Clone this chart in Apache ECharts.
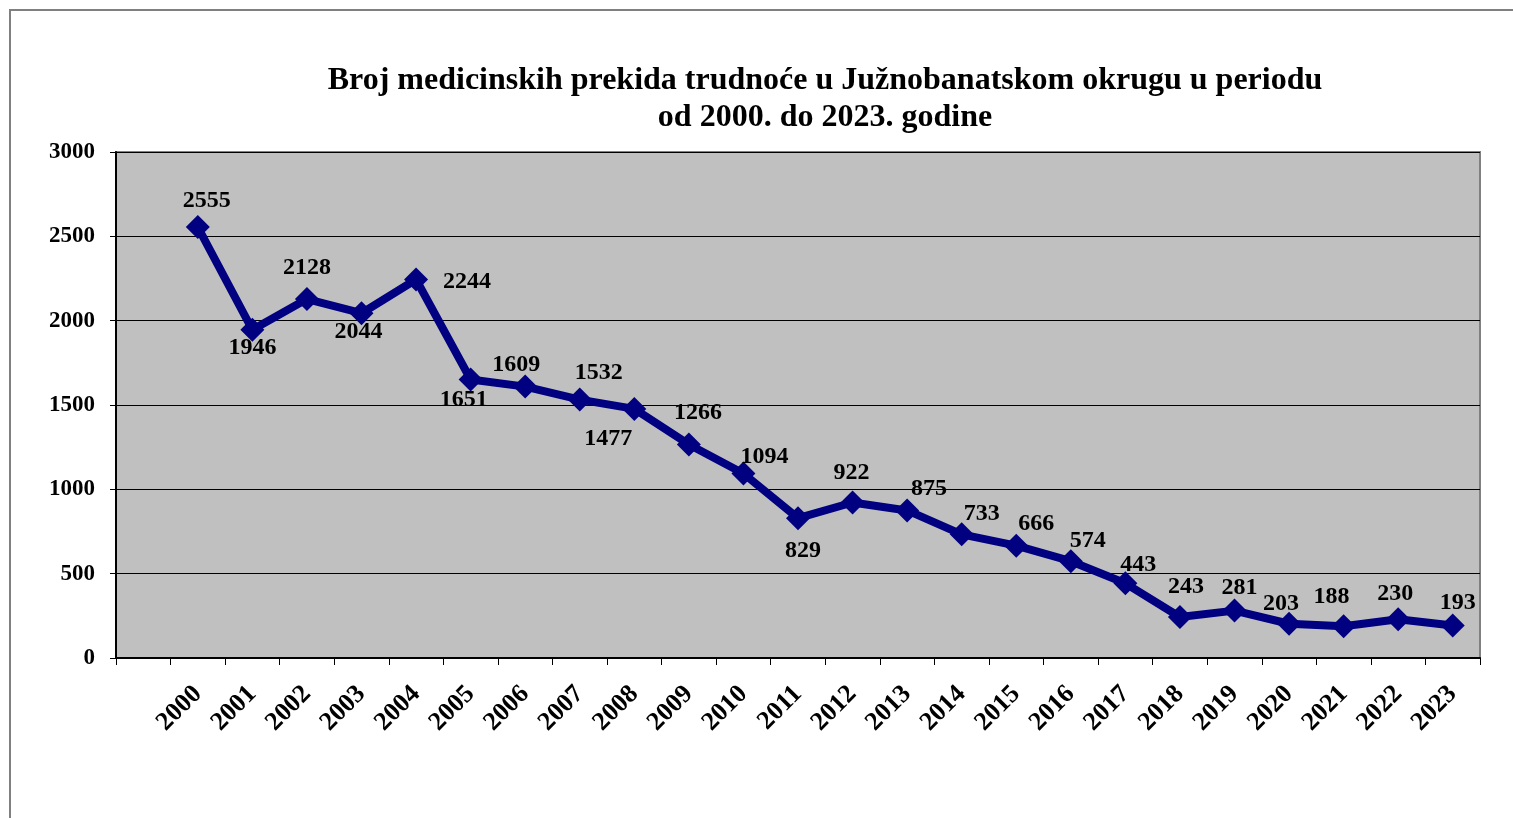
<!DOCTYPE html>
<html>
<head>
<meta charset="utf-8">
<script src="https://cdn.jsdelivr.net/npm/echarts@6/dist/echarts.min.js"></script>
<style>
html,body{margin:0;padding:0;background:#fff;}
#chart{width:1513px;height:818px;}
</style>
</head>
<body>
<div id="chart"></div>
<script>
const titleText = 'Broj medicinskih prekida trudnoće u Južnobanatskom okrugu u periodu\nod 2000. do 2023. godine';
const years = ['2000','2001','2002','2003','2004','2005','2006','2007','2008','2009','2010','2011','2012','2013','2014','2015','2016','2017','2018','2019','2020','2021','2022','2023'];
const values = [2555,1946,2128,2044,2244,1651,1609,1532,1477,1266,1094,829,922,875,733,666,574,443,243,281,203,188,230,193];
const yTicks = {min:0, max:3000, interval:500};

// label placement (style only): pixel offsets of each value label from its point
const labelOffsets = [[9,-26],[0,18],[0,-31],[-3,19],[51,2],[-7,20],[-9,-22],[19,-27],[-26,30],[9,-32],[21,-17],[5,33],[-1,-30],[22,-22],[20,-21],[20,-22],[17,-20],[13,-18],[6,-30],[5,-23],[-8,-20],[-12,-29],[-3,-25],[5,-23]];

const FONT = '"Liberation Serif","Times New Roman",serif';
const cats = [''].concat(years);
const seriesData = ['-'].concat(values.map((v,i)=>({
  value:v,
  label:{offset:labelOffsets[i]}
})));

const chart = echarts.init(document.getElementById('chart'));
chart.setOption({
  animation:false,
  backgroundColor:'#ffffff',
  graphic:[
    {type:'rect', shape:{x:10,y:10,width:1600,height:900}, style:{fill:'none',stroke:'#808080',lineWidth:2}, z:-10},
    {type:'text', x:825, y:62, style:{text:titleText, font:'bold 32px '+FONT, fill:'#000', textAlign:'center', lineHeight:37}}
  ],
  grid:{left:116,right:33,top:152,bottom:160,show:true,backgroundColor:'#C0C0C0',borderColor:'#808080',borderWidth:2},
  xAxis:{
    type:'category', data:cats, boundaryGap:true,
    axisLine:{lineStyle:{color:'#000',width:2}},
    axisTick:{show:true,length:7,lineStyle:{color:'#000',width:1}},
    axisLabel:{interval:0,rotate:45,margin:32,color:'#000',fontFamily:FONT,fontWeight:'bold',fontSize:26}
  },
  yAxis:{
    type:'value', min:yTicks.min, max:yTicks.max, interval:yTicks.interval,
    axisLine:{show:true,lineStyle:{color:'#000',width:2}},
    axisTick:{show:true,length:6,lineStyle:{color:'#000',width:1}},
    splitLine:{show:true,lineStyle:{color:'#000',width:1}},
    axisLabel:{margin:21,color:'#000',fontFamily:FONT,fontWeight:'bold',fontSize:23,formatter:v=>String(v)}
  },
  series:[{
    type:'line', data:seriesData,
    lineStyle:{color:'#000080',width:8},
    itemStyle:{color:'#000080'},
    symbol:'diamond', symbolSize:[24,24], showAllSymbol:true,
    label:{show:true,position:'inside',color:'#000',fontFamily:FONT,fontWeight:'bold',fontSize:24}
  }]
});
</script>
</body>
</html>
